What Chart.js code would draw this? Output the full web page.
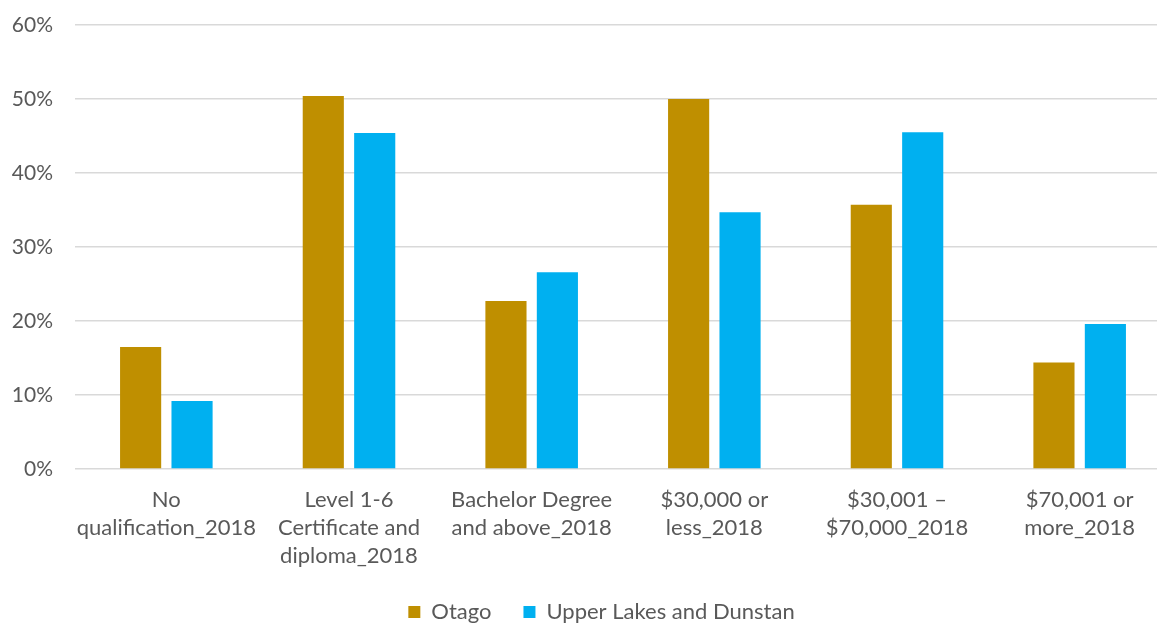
<!DOCTYPE html>
<html>
<head>
<meta charset="utf-8">
<script src="https://cdn.jsdelivr.net/npm/chart.js@4.4.0/dist/chart.umd.min.js"></script>
<style>
  html, body { margin: 0; padding: 0; background: #ffffff; overflow: hidden; }
  #wrap { position: relative; width: 1203px; height: 624px; }
</style>
</head>
<body>
<div id="wrap"><canvas id="c"></canvas></div>
<script>
const categories = [
  ["No", "qualification_2018"],
  ["Level 1-6", "Certificate and", "diploma_2018"],
  ["Bachelor Degree", "and above_2018"],
  ["$30,000 or", "less_2018"],
  ["$30,001 \u2013", "$70,000_2018"],
  ["$70,001 or", "more_2018"]
];
const otagoValues = [16.5, 50.4, 22.7, 50.0, 35.7, 14.4];
const upperLakesValues = [9.2, 45.4, 26.6, 34.7, 45.5, 19.6];
const seriesNames = ["Otago", "Upper Lakes and Dunstan"];
const yTicks = [0, 10, 20, 30, 40, 50, 60];

const FONT = "Lato, 'Open Sans', sans-serif";
const TXT = "#595959";

new Chart(document.getElementById('c'), {
  type: 'bar',
  data: {
    labels: categories,
    datasets: [
      { label: seriesNames[0], data: otagoValues, backgroundColor: '#BF8F00', borderWidth: 0 },
      { label: seriesNames[1], data: upperLakesValues, backgroundColor: '#00B0F0', borderWidth: 0 }
    ]
  },
  options: {
    responsive: true,
    maintainAspectRatio: false,
    animation: false,
    datasets: { bar: { categoryPercentage: 0.563, barPercentage: 0.8 } },
    layout: { padding: { top: 25, left: 0, right: 0, bottom: -9 } },
    plugins: {
      tooltip: { enabled: false },
      legend: {
        position: 'bottom',
        labels: {
          boxWidth: 12, boxHeight: 12, padding: 32,
          color: TXT,
          font: { family: FONT, size: 22 }
        }
      }
    },
    scales: {
      x: {
        grid: { display: false, drawTicks: false },
        border: { display: false },
        ticks: {
          color: TXT, padding: 17, maxRotation: 0, autoSkip: false,
          font: { family: FONT, size: 22, lineHeight: 1.27 }
        },
        afterFit(s) { s.height = 100; s.paddingLeft = 0; s.paddingRight = 0; }
      },
      y: {
        min: yTicks[0], max: yTicks[yTicks.length - 1],
        afterBuildTicks(s) { s.ticks = yTicks.map(v => ({ value: v })); },
        grid: { color: '#D9D9D9', lineWidth: 1.5, drawTicks: false },
        border: { display: false },
        ticks: {
          color: TXT, padding: 22,
          font: { family: FONT, size: 21 },
          callback: v => v + '%'
        },
        afterFit(s) { s.width = 75; s.paddingTop = 0; s.paddingBottom = 0; }
      },
      y2: {
        position: 'right',
        display: true,
        grid: { display: false, drawTicks: false },
        border: { display: false },
        ticks: { display: false },
        afterFit(s) { s.width = 32; s.paddingTop = 0; s.paddingBottom = 0; }
      }
    }
  }
});
</script>
</body>
</html>
